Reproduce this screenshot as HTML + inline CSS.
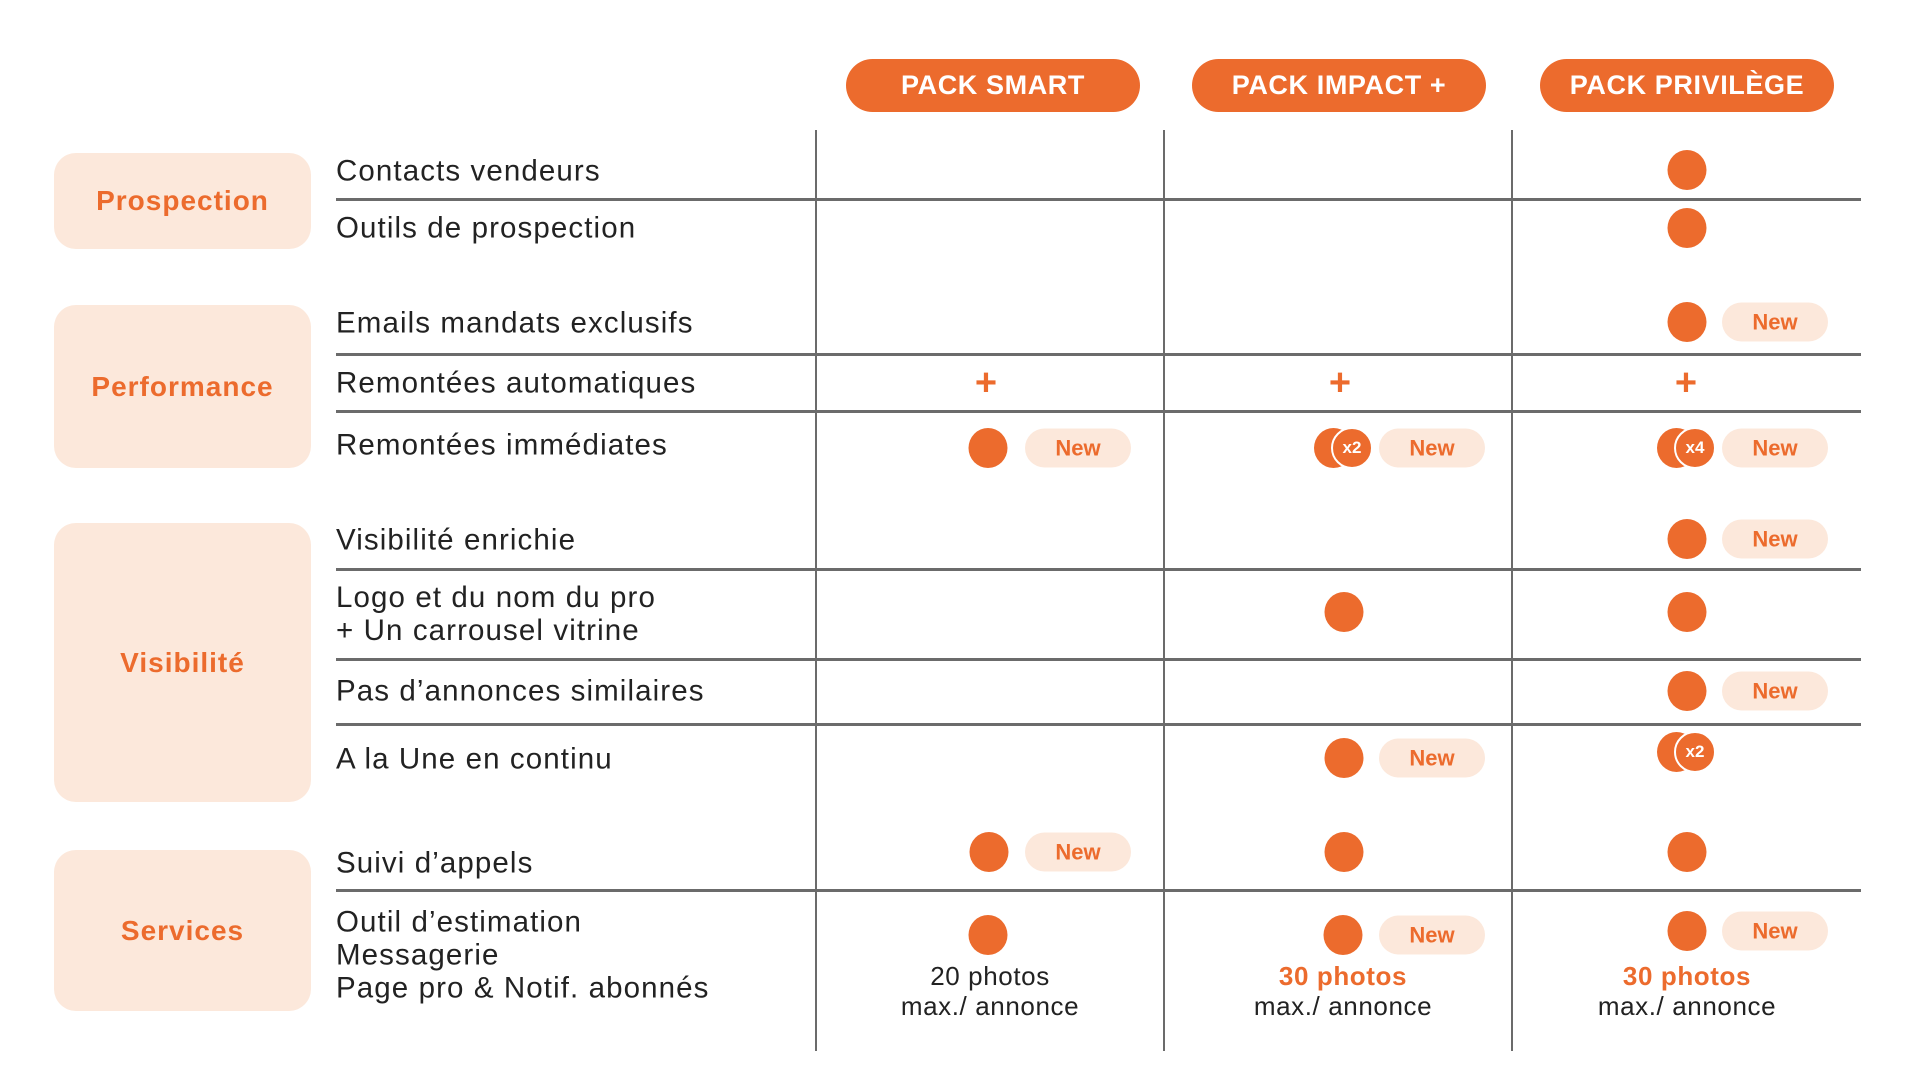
<!DOCTYPE html>
<html><head><meta charset="utf-8"><style>
body{margin:0;width:1920px;height:1077px;background:#fff;position:relative;overflow:hidden;font-family:"Liberation Sans",sans-serif;}
.pill{position:absolute;top:59px;height:53px;border-radius:27px;background:#EC6B2D;color:#fff;font-weight:bold;font-size:27px;letter-spacing:0.6px;display:flex;align-items:center;justify-content:center;}
.cat{position:absolute;left:54px;width:257px;background:#FCE8DB;border-radius:22px;color:#EC6B2D;font-weight:bold;font-size:28px;letter-spacing:1px;display:flex;align-items:center;justify-content:center;}
.vl{position:absolute;top:130px;width:2px;height:921px;background:#6b6b6b}
.hl{position:absolute;left:336px;width:1525px;height:3px;background:#6b6b6b}
.t{position:absolute;left:336px;font-size:29.5px;letter-spacing:1.1px;color:#222;line-height:33px;transform:translateY(-50%);white-space:nowrap;margin-top:1px}
.d{position:absolute;width:39px;height:40px;border-radius:50%;background:#EC6B2D;transform:translate(-50%,-50%)}
.n{position:absolute;width:106px;height:39px;border-radius:20px;background:#FCE8DB;color:#EC6B2D;font-weight:bold;font-size:22px;display:flex;align-items:center;justify-content:center;transform:translateY(-50%)}
.p{position:absolute;color:#EC6B2D;font-weight:bold;font-size:38px;transform:translate(-50%,-50%);line-height:38px}
.x{position:absolute;width:39px;height:40px;transform:translateY(-50%)}
.x .b{position:absolute;left:0;top:0;width:39px;height:40px;border-radius:50%;background:#EC6B2D}
.x .f{position:absolute;left:17px;top:-1px;width:38px;height:38px;border-radius:50%;background:#EC6B2D;border:2px solid #fff;color:#fff;font-weight:bold;font-size:17px;display:flex;align-items:center;justify-content:center}
.c{position:absolute;transform:translate(-50%,-50%);font-size:26px;letter-spacing:0.6px;color:#222;text-align:center;white-space:nowrap;line-height:30px;margin-top:-1px}
</style></head><body>
<div class="pill" style="left:846px;width:294px">PACK SMART</div>
<div class="pill" style="left:1192px;width:294px">PACK IMPACT +</div>
<div class="pill" style="left:1540px;width:294px">PACK PRIVILÈGE</div>

<div class="cat" style="top:153px;height:96px">Prospection</div>
<div class="cat" style="top:305px;height:163px">Performance</div>
<div class="cat" style="top:523px;height:279px">Visibilité</div>
<div class="cat" style="top:850px;height:161px">Services</div>

<div class="vl" style="left:815px"></div>
<div class="vl" style="left:1163px"></div>
<div class="vl" style="left:1511px"></div>
<div class="hl" style="top:198px"></div>
<div class="hl" style="top:353px"></div>
<div class="hl" style="top:410px"></div>
<div class="hl" style="top:568px"></div>
<div class="hl" style="top:658px"></div>
<div class="hl" style="top:723px"></div>
<div class="hl" style="top:889px"></div>

<div class="t" style="top:170px">Contacts vendeurs</div>
<div class="t" style="top:227px">Outils de prospection</div>
<div class="t" style="top:322px">Emails mandats exclusifs</div>
<div class="t" style="top:382px">Remontées automatiques</div>
<div class="t" style="top:444px">Remontées immédiates</div>
<div class="t" style="top:539px">Visibilité enrichie</div>
<div class="t" style="top:613px">Logo et du nom du pro<br>+ Un carrousel vitrine</div>
<div class="t" style="top:690px">Pas d’annonces similaires</div>
<div class="t" style="top:758px">A la Une en continu</div>
<div class="t" style="top:862px">Suivi d’appels</div>
<div class="t" style="top:954px">Outil d’estimation<br>Messagerie<br>Page pro &amp; Notif. abonnés</div>

<div class="d" style="left:1687px;top:170px"></div>
<div class="d" style="left:1687px;top:228px"></div>
<div class="d" style="left:1687px;top:322px"></div><div class="n" style="left:1722px;top:322px">New</div>
<div class="p" style="left:1686px;top:383px">+</div>
<div class="x" style="left:1657px;top:448px"><div class="b"></div><div class="f">x4</div></div><div class="n" style="left:1722px;top:448px">New</div>
<div class="d" style="left:1687px;top:539px"></div><div class="n" style="left:1722px;top:539px">New</div>
<div class="d" style="left:1687px;top:612px"></div>
<div class="d" style="left:1687px;top:691px"></div><div class="n" style="left:1722px;top:691px">New</div>
<div class="x" style="left:1657px;top:752px"><div class="b"></div><div class="f">x2</div></div>
<div class="d" style="left:1687px;top:852px"></div>
<div class="d" style="left:1687px;top:931px"></div><div class="n" style="left:1722px;top:931px">New</div>
<div class="c" style="left:1687px;top:992px"><b style="color:#EC6B2D">30 photos</b><br>max./ annonce</div>

<div class="p" style="left:1340px;top:383px">+</div>
<div class="x" style="left:1314px;top:448px"><div class="b"></div><div class="f">x2</div></div><div class="n" style="left:1379px;top:448px">New</div>
<div class="d" style="left:1344px;top:612px"></div>
<div class="d" style="left:1344px;top:758px"></div><div class="n" style="left:1379px;top:758px">New</div>
<div class="d" style="left:1344px;top:852px"></div>
<div class="d" style="left:1343px;top:935px"></div><div class="n" style="left:1379px;top:935px">New</div>
<div class="c" style="left:1343px;top:992px"><b style="color:#EC6B2D">30 photos</b><br>max./ annonce</div>

<div class="p" style="left:986px;top:383px">+</div>
<div class="d" style="left:988px;top:448px"></div><div class="n" style="left:1025px;top:448px">New</div>
<div class="d" style="left:989px;top:852px"></div><div class="n" style="left:1025px;top:852px">New</div>
<div class="d" style="left:988px;top:935px"></div>
<div class="c" style="left:990px;top:992px">20 photos<br>max./ annonce</div>
</body></html>
